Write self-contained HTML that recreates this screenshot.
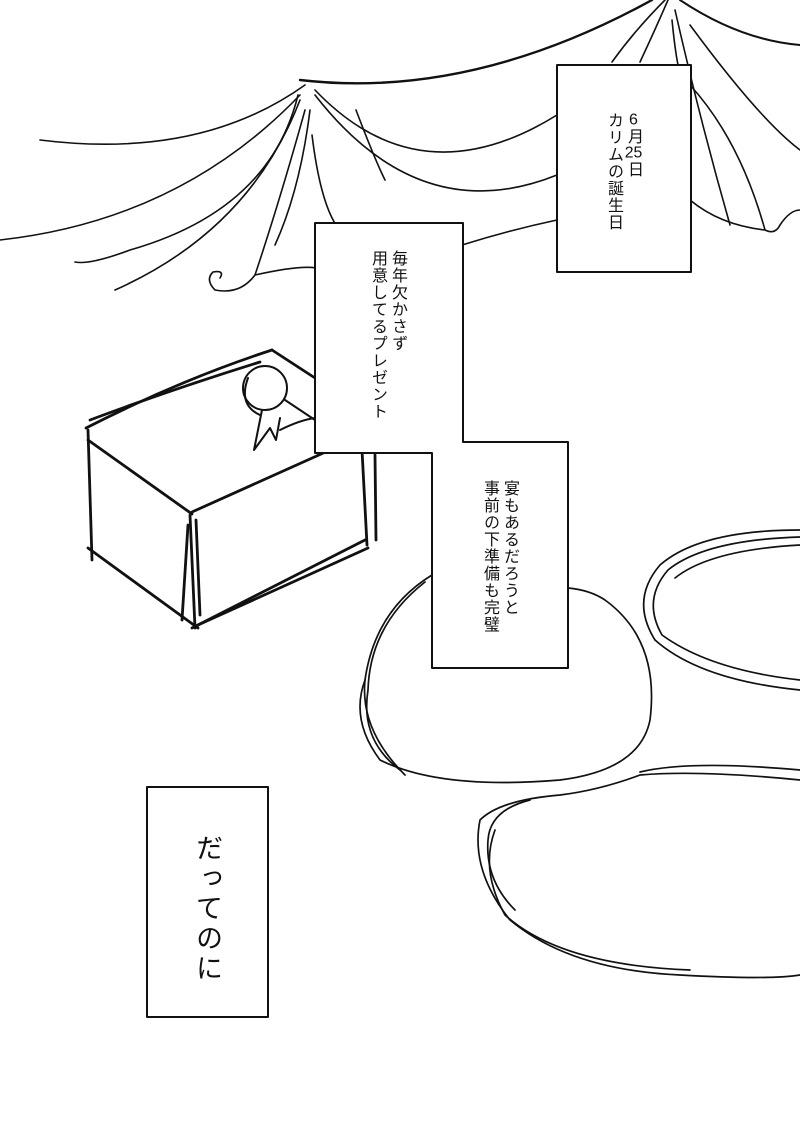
<!DOCTYPE html>
<html><head><meta charset="utf-8"><style>
html,body{margin:0;padding:0;background:#fff;}
#p{position:relative;width:800px;height:1135px;overflow:hidden;background:#fff;}
svg{position:absolute;left:0;top:0;}
.v{position:absolute;writing-mode:vertical-rl;font-family:"Liberation Sans","Noto Sans CJK JP",sans-serif;color:#111;font-size:16px;line-height:20px;letter-spacing:1px;white-space:nowrap;}
.t{text-combine-upright:all;}
</style></head><body><div id="p">
<svg width="800" height="1135" viewBox="0 0 800 1135" fill="none" stroke="#111" stroke-linecap="round" stroke-linejoin="round">
<g stroke-width="1.6">
<path d="M300 80 Q470 100 652 0" stroke-width="2.4"/>
<path d="M680 0 Q740 40 800 45" stroke-width="2"/>
<path d="M305 85 Q200 160 40 140"/>
<path d="M300 95 Q180 220 0 240"/>
<path d="M298 95 Q270 210 130 250 Q90 265 75 262"/>
<path d="M300 100 Q250 230 115 290"/>
<path d="M305 110 Q280 200 255 275 Q240 295 215 290 Q205 280 213 272 Q225 270 220 278"/>
<path d="M255 275 Q300 265 316 268"/>
<path d="M310 110 Q300 190 275 245"/>
<path d="M312 135 Q320 200 336 225"/>
<path d="M356 110 Q375 160 385 180"/>
<path d="M315 95 Q420 230 557 175"/>
<path d="M315 90 Q420 200 557 115"/>
<path d="M462 245 Q510 230 557 220"/>
<path d="M690 85 Q740 140 765 230 Q775 235 780 225 Q790 210 800 210"/>
<path d="M690 200 Q720 225 765 230"/>
<path d="M675 10 Q700 120 730 225"/>
<path d="M672 20 Q675 50 678 65"/>
<path d="M690 25 Q760 120 800 150"/>
<path d="M612 62 Q635 30 665 0"/>
<path d="M640 62 Q655 30 668 0"/>
</g>
<g stroke-width="2.8">
<path d="M86 428 Q180 380 272 350"/>
<path d="M90 420 Q170 390 260 362"/>
<path d="M272 350 L315 378"/>
<path d="M88 440 L192 514"/>
<path d="M88 430 L92 560"/>
<path d="M88 548 L198 628"/>
<path d="M190 515 L195 628"/>
<path d="M192 512 L330 450"/>
<path d="M198 625 L368 548"/>
<path d="M192 628 L365 540"/>
<path d="M362 450 L367 545"/>
<path d="M375 455 L376 540"/>
<path d="M188 525 L182 620"/>
<path d="M196 520 L200 615"/>
</g>
<g stroke-width="2">
<circle cx="265" cy="388" r="22"/>
<path d="M248 378 Q238 405 260 415"/>
<path d="M262 410 L254 450 L270 428 L276 440 L280 418"/>
<path d="M285 400 L315 420"/>
<path d="M280 430 Q300 420 315 418"/>
</g>
<g stroke-width="1.7">
<path d="M432 575 Q375 610 365 680 Q350 720 380 760 Q440 790 560 780 Q640 770 650 720 Q660 640 605 600 Q590 590 568 588"/>
<path d="M425 582 Q370 625 368 690 Q360 740 400 770"/>
<path d="M365 680 Q360 730 405 775"/>
<path d="M800 530 Q700 530 660 565 Q630 600 655 640 Q700 680 800 690"/>
<path d="M800 537 Q705 540 668 570 Q642 600 662 635 Q710 670 800 680"/>
<path d="M800 545 Q710 550 675 578"/>
<path d="M800 780 Q700 770 640 775 Q600 790 560 795 Q500 800 480 820 Q470 870 510 920 Q570 970 680 975 Q770 980 800 975"/>
<path d="M530 800 Q490 810 488 840 Q485 880 515 910"/>
<path d="M640 772 Q690 760 800 770"/>
<path d="M495 830 Q480 870 505 915 Q560 965 690 970"/>
</g>
<g stroke-width="2" fill="#fff">
<rect x="557" y="65" width="134" height="207"/>
<path d="M315 223 L463 223 L463 442 L568 442 L568 668 L432 668 L432 453 L315 453 Z"/>
<rect x="147" y="787" width="121" height="230"/>
</g>
</svg>
<div class="v" style="left:603px;top:112px;"><span class="t">6</span>月<span class="t">25</span>日<br>カリムの誕生日</div>
<div class="v" style="left:367px;top:250px;">毎年欠かさず<br>用意してるプレゼント</div>
<div class="v" style="left:479px;top:480px;">宴もあるだろうと<br>事前の下準備も完璧</div>
<div class="v" style="left:192px;top:834px;font-size:27px;line-height:30px;letter-spacing:3px;">だってのに</div>
</div></body></html>
